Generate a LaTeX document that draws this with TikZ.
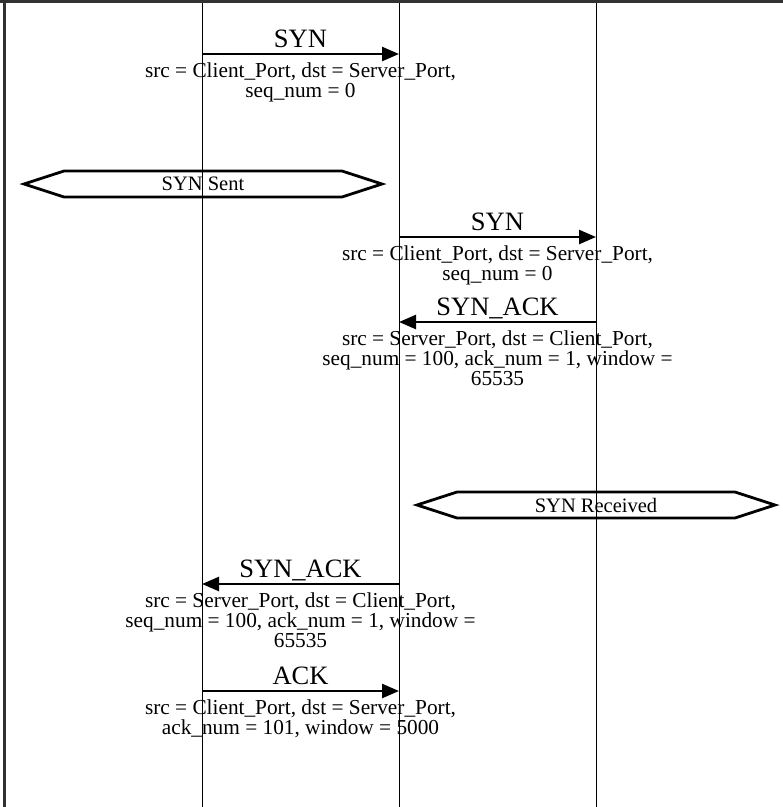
\documentclass[tikz,border=0pt]{standalone}
\usepackage{fontspec}
\setmainfont{Liberation Serif}
\usetikzlibrary{arrows.meta,shapes.symbols,positioning}
\definecolor{framegray}{RGB}{50,50,50}

\begin{document}
\begin{tikzpicture}[x=1pt, y=-1pt]
\tikzstyle{lifeline} = [draw=black, line width=1pt]
\tikzstyle{frame} = [draw=framegray, line width=2.8pt]
\tikzstyle{msg} = [line width=2.5pt, -{Triangle[length=17pt,width=14pt]}]
\tikzstyle{msglabel} = [font=\fontsize{26.5}{26}\selectfont, inner sep=0pt, anchor=base, yshift=7pt]
\tikzstyle{msgtext} = [font=\fontsize{21.3}{20}\selectfont, align=center, inner sep=0pt, anchor=north, yshift=-7pt]
\tikzstyle{state} = [signal, signal to=west and east, signal pointer angle=36, draw, line width=2.8pt, minimum width=358pt, minimum height=26pt, inner sep=0pt, font=\fontsize{20.5}{20}\selectfont]

\useasboundingbox (0,0) rectangle (783,807);

% lifelines
\coordinate (client top) at (202,0);
\coordinate (client bot) at (202,807);
\coordinate (link top) at (399,0);
\coordinate (link bot) at (399,807);
\coordinate (server top) at (596,0);
\coordinate (server bot) at (596,807);
\draw [lifeline] (client top) -- (client bot);
\draw [lifeline] (link top) -- (link bot);
\draw [lifeline] (server top) -- (server bot);

% frame
\draw [frame] (0,1.4) -- (783,1.4);
\draw [frame] (4.5,0) -- (4.5,807);

% message ends
\coordinate (syn1 src) at (202,54);
\coordinate (syn1 dst) at (399,54);
\coordinate (syn2 src) at (399,237);
\coordinate (syn2 dst) at (596,237);
\coordinate (synack1 src) at (596,322);
\coordinate (synack1 dst) at (399,322);
\coordinate (synack2 src) at (399,584);
\coordinate (synack2 dst) at (202,584);
\coordinate (ack src) at (202,691);
\coordinate (ack dst) at (399,691);

\draw [msg] (syn1 src) -- node[msglabel] (syn1 label) {SYN}
  node[msgtext] (syn1 text) {src = Client\_Port, dst = Server\_Port,\\ seq\_num = 0} (syn1 dst);

\node (synsent) [state] at (203,184) {SYN Sent};

\draw [msg] (syn2 src) -- node[msglabel] (syn2 label) {SYN}
  node[msgtext] (syn2 text) {src = Client\_Port, dst = Server\_Port,\\ seq\_num = 0} (syn2 dst);
\draw [msg] (synack1 src) -- node[msglabel] (synack1 label) {SYN\_ACK}
  node[msgtext] (synack1 text) {src = Server\_Port, dst = Client\_Port,\\ seq\_num = 100, ack\_num = 1, window =\\ 65535} (synack1 dst);

\node (synrcvd) [state] at (596,505) {SYN Received};

\draw [msg] (synack2 src) -- node[msglabel] (synack2 label) {SYN\_ACK}
  node[msgtext] (synack2 text) {src = Server\_Port, dst = Client\_Port,\\ seq\_num = 100, ack\_num = 1, window =\\ 65535} (synack2 dst);
\draw [msg] (ack src) -- node[msglabel] (ack label) {ACK}
  node[msgtext] (ack text) {src = Client\_Port, dst = Server\_Port,\\ ack\_num = 101, window = 5000} (ack dst);
\end{tikzpicture}
\end{document}
